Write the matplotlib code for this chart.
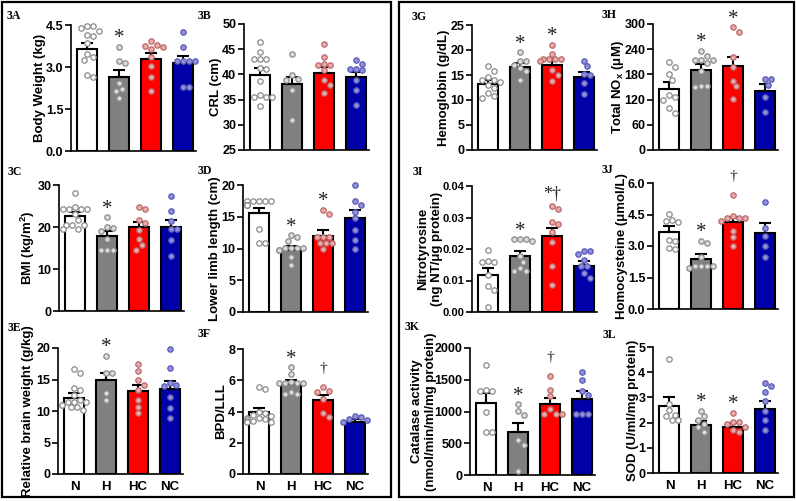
import numpy as np
import matplotlib.pyplot as plt
from matplotlib.patches import Rectangle

plt.rcParams['font.family'] = 'Liberation Sans'
plt.rcParams['font.weight'] = 'bold'
plt.rcParams['mathtext.fontset'] = 'custom'
plt.rcParams['mathtext.rm'] = 'Liberation Sans:bold'
plt.rcParams['mathtext.it'] = 'Liberation Sans:bold'
plt.rcParams['mathtext.bf'] = 'Liberation Sans:bold'
plt.rcParams['mathtext.default'] = 'regular'

W, H = 796, 501

groups = ['N', 'H', 'HC', 'NC']
bar_colors = ['white', '#808080', '#ff0000', '#0000a8']
dot_face = ['white', '#dcdcdc', '#eeaaaa', '#9090dd']
dot_edge = ['#8a8a8a', '#8a8a8a', '#b86a6a', '#5a5ab8']

# 3A body weight (kg)
bw_mean = [3.66, 2.65, 3.27, 3.15]
bw_sem = [0.21, 0.26, 0.24, 0.24]
bw_pts = [[4.45, 4.45, 4.4, 4.3, 4.15, 4.1, 3.85, 3.45, 3.35, 3.25, 2.7, 2.65],
          [3.72, 3.22, 3.13, 2.43, 2.23, 2.15, 1.91],
          [3.93, 3.77, 3.75, 3.72, 3.63, 3.37, 3.03, 2.63, 2.15],
          [4.24, 3.72, 3.22, 3.22, 3.2, 3.2, 2.3, 2.28]]
bw_sig = ['', '*', '', '']

# 3B CRL (cm)
crl_mean = [39.9, 38.1, 40.2, 39.4]
crl_sem = [1.3, 1.3, 1.3, 1.1]
crl_pts = [[46.5, 44.5, 43, 43, 43, 41.2, 41, 38.6, 36, 35.5, 35.5, 35.5, 33.7],
           [44, 39.9, 39, 38.9, 36.9, 31],
           [46, 43.5, 42.1, 41.9, 41.9, 40.9, 38.9, 37.9, 36.4],
           [42.9, 42.1, 41, 41, 40.9, 38.9, 36.9, 33.9]]
crl_sig = ['', '', '', '']

# 3C BMI
bmi_mean = [22.7, 17.9, 19.9, 20.1]
bmi_sem = [0.9, 1.1, 1.4, 1.6]
bmi_pts = [[28.2, 24.8, 24.4, 24.4, 24.4, 24.4, 23, 21.6, 20.5, 20.5, 20.5, 19.6, 19.6],
           [22.3, 19.9, 19.7, 19.1, 17.1, 14.5, 14.5, 14.5],
           [24.8, 24.3, 21.7, 20.9, 19.3, 17.1, 15.7, 14.5],
           [27.3, 23.9, 21.5, 19.5, 19.5, 16.9, 13.2]]
bmi_sig = ['', '*', '', '']

# 3D lower limb length (cm)
lll_mean = [15.6, 9.8, 12.0, 14.8]
lll_sem = [0.8, 0.6, 0.9, 1.3]
lll_pts = [[17.5, 17.5, 17.5, 17.5, 17.5, 16.9, 16.9, 16.9, 13.0, 10.9, 10.9],
           [12.1, 11.8, 11.2, 10.1, 10.1, 10.1, 10.1, 9.8, 9.8, 8.7, 7.4],
           [16.1, 15.5, 11.8, 11.8, 11.8, 10.9, 10.9, 10.9, 9.9],
           [20, 17.5, 16.9, 15.8, 14.8, 12.9, 11.3, 9.9]]
lll_sig = ['', '*', '*', '']

# 3E relative brain weight (g/kg)
rbw_mean = [12.1, 14.9, 13.1, 13.5]
rbw_sem = [0.8, 1.2, 1.0, 1.2]
rbw_pts = [[16.7, 16.0, 13.7, 13.3, 12.6, 11.8, 11.5, 11.5, 11.5, 11.0, 11.0, 10.6, 10.6, 10.2],
           [18.8, 16.1, 16.0, 12.9, 11.7],
           [17.4, 16.3, 14.9, 14.2, 13.4, 11.8, 10.7, 9.7],
           [19.9, 16.8, 14.4, 14.2, 14.0, 12.3, 10.4, 8.9]]
rbw_sig = ['', '*', '', '']

# 3F BPD/LLL
bpd_mean = [3.94, 5.77, 4.74, 3.32]
bpd_sem = [0.26, 0.23, 0.32, 0.19]
bpd_pts = [[5.6, 5.45, 4.0, 3.9, 3.8, 3.7, 3.6, 3.6, 3.5, 3.5, 3.4, 3.4, 3.3, 3.3],
           [6.83, 6.38, 5.91, 5.8, 5.8, 5.8, 5.8, 5.23, 5.1, 5.1],
           [5.55, 5.32, 5.28, 4.79, 3.9, 3.64],
           [3.72, 3.64, 3.5, 3.43, 3.35]]
bpd_sig = ['', '*', '\u2020', '']

# 3G hemoglobin (g/dL)
hb_mean = [13.2, 16.5, 17.0, 14.5]
hb_sem = [0.8, 0.8, 1.1, 1.0]
hb_pts = [[16.7, 15.7, 14.5, 14.0, 14.0, 13.5, 13.0, 12.3, 11.3, 10.8, 10.3],
          [19.5, 17.8, 17.8, 17.0, 16.3, 15.8, 14.0],
          [21.0, 19.2, 18.1, 18.1, 18.1, 18.1, 17.7, 16.0, 15.0, 13.7],
          [17.8, 16.7, 15.2, 15.0, 13.3, 11.2]]
hb_sig = ['', '*', '*', '']

# 3H total NOx (uM)
nox_mean = [145, 190, 200, 141]
nox_sem = [18, 14, 21, 15]
nox_pts = [[210, 198, 181, 167, 131, 125, 119, 99, 87],
           [236, 224, 214, 214, 214, 206, 187, 152, 152, 149],
           [292, 280, 222, 197, 165, 152, 121],
           [169, 169, 155, 127, 90]]
nox_sig = ['', '*', '*', '']

# 3I nitrotyrosine
nt_mean = [0.0116, 0.0179, 0.0242, 0.0147]
nt_sem = [0.0023, 0.0015, 0.0024, 0.0016]
nt_pts = [[0.0197, 0.0163, 0.0160, 0.0160, 0.0118, 0.0081, 0.0069, 0.0016],
          [0.0231, 0.0231, 0.0231, 0.0226, 0.0179, 0.0160, 0.0139, 0.0129, 0.0129],
          [0.0338, 0.0326, 0.0287, 0.0279, 0.0255, 0.0221, 0.0145, 0.0087],
          [0.0194, 0.0194, 0.0184, 0.0164, 0.0145, 0.0145, 0.0123, 0.0108]]
nt_sig = ['', '*', '*\u2020', '']

# 3J homocysteine (umol/L)
hcy_mean = [3.67, 2.38, 4.14, 3.62]
hcy_sem = [0.27, 0.24, 0.26, 0.48]
hcy_pts = [[4.52, 4.25, 4.17, 4.13, 3.3, 3.25, 2.9, 2.86],
           [3.25, 3.14, 2.48, 2.06, 2.06, 2.06, 2.06, 1.95],
           [5.41, 4.41, 4.33, 4.33, 4.33, 4.17, 3.73, 3.41, 2.98],
           [5.1, 3.86, 3.46, 2.98, 2.48]]
hcy_sig = ['', '*', '\u2020', '']

# 3K catalase activity
cat_mean = [1132, 674, 1116, 1195]
cat_sem = [157, 142, 95, 131]
cat_pts = [[1737, 1332, 1316, 1316, 1000, 674, 674],
           [1116, 1011, 947, 553, 474, 68],
           [1553, 1342, 1237, 1037, 958, 958, 958],
           [1621, 1500, 1316, 1263, 963, 963, 963]]
cat_sig = ['', '*', '\u2020', '']

# 3L SOD
sod_mean = [2.66, 1.90, 1.83, 2.55]
sod_sem = [0.36, 0.16, 0.15, 0.31]
sod_pts = [[4.54, 2.75, 2.51, 2.32, 2.28, 2.1, 2.1],
           [2.46, 2.25, 2.09, 1.96, 1.83, 1.63],
           [2.38, 2.02, 2.02, 1.96, 1.83, 1.72, 1.63],
           [3.57, 3.44, 3.21, 2.84, 2.48, 2.09, 1.72]]
sod_sig = ['', '*', '*', '']

# y axis ticks and tick labels
bw_ticks = [0, 1.5, 3.0, 4.5]
bw_labels = ['0.0', '1.5', '3.0', '4.5']
crl_ticks = [25, 30, 35, 40, 45, 50]
bmi_ticks = [0, 10, 20, 30]
lll_ticks = [0, 5, 10, 15, 20]
rbw_ticks = [0, 5, 10, 15, 20]
bpd_ticks = [0, 2, 4, 6, 8]
hb_ticks = [0, 5, 10, 15, 20, 25]
nox_ticks = [0, 60, 120, 180, 240, 300]
nt_ticks = [0, 0.01, 0.02, 0.03, 0.04]
nt_labels = ['0.00', '0.01', '0.02', '0.03', '0.04']
hcy_ticks = [0, 1.5, 3.0, 4.5, 6.0]
hcy_labels = ['0.0', '1.5', '3.0', '4.5', '6.0']
cat_ticks = [0, 500, 1000, 1500, 2000]
sod_ticks = [0, 1, 2, 3, 4, 5]

panels = [
    ('3A', 'Body Weight (kg)', bw_mean, bw_sem, bw_pts, bw_sig, bw_ticks, bw_labels),
    ('3B', 'CRL (cm)', crl_mean, crl_sem, crl_pts, crl_sig, crl_ticks, None),
    ('3C', 'BMI (kg/m$^2$)', bmi_mean, bmi_sem, bmi_pts, bmi_sig, bmi_ticks, None),
    ('3D', 'Lower limb length (cm)', lll_mean, lll_sem, lll_pts, lll_sig, lll_ticks, None),
    ('3E', 'Relative brain weight (g/kg)', rbw_mean, rbw_sem, rbw_pts, rbw_sig, rbw_ticks, None),
    ('3F', 'BPD/LLL', bpd_mean, bpd_sem, bpd_pts, bpd_sig, bpd_ticks, None),
    ('3G', 'Hemoglobin (g/dL)', hb_mean, hb_sem, hb_pts, hb_sig, hb_ticks, None),
    ('3H', 'Total NO$_x$ (\u03bcM)', nox_mean, nox_sem, nox_pts, nox_sig, nox_ticks, None),
    ('3I', 'Nitrotyrosine\n(ng NT/\u03bcg protein)', nt_mean, nt_sem, nt_pts, nt_sig, nt_ticks, nt_labels),
    ('3J', 'Homocysteine (\u03bcmol/L)', hcy_mean, hcy_sem, hcy_pts, hcy_sig, hcy_ticks, hcy_labels),
    ('3K', 'Catalase activity\n(nmol/min/ml/mg protein)', cat_mean, cat_sem, cat_pts, cat_sig, cat_ticks, None),
    ('3L', 'SOD (U/ml/mg protein)', sod_mean, sod_sem, sod_pts, sod_sig, sod_ticks, None),
]

# layout in pixels: y-axis x, axes top, axes bottom, ylabel right edge (px left of axis),
# panel label x, panel label baseline, tick label size
layout = [
    (71, 25, 151, 25, 7, 19, 9),
    (244, 24, 150, 22, 198, 19, 9),
    (59, 185, 311, 22, 8, 175, 9),
    (243, 185, 312, 22, 198, 174, 9),
    (58, 348, 474, 24, 8, 331, 9),
    (243, 349, 474, 16, 198, 337, 9),
    (472, 25, 150, 22, 412, 20, 9),
    (653, 24, 150, 27, 602, 18, 9),
    (472, 186, 312, 29, 413, 175, 8),
    (653, 183, 309, 25, 602, 173, 9),
    (470, 348, 475, 33, 405, 330, 9),
    (653, 347, 473, 14, 603, 338, 9),
]

AX_W = 125
PITCH = 31.7  # px per category


def swarm(vals, ylo, yhi, h_px, d=6.0):
    ypx = (np.asarray(vals, float) - ylo) / (yhi - ylo) * h_px
    order = np.argsort(-ypx)
    placed = []
    xs = np.zeros(len(vals))
    cands = [0, 1, -1, 2, -2, 3, -3, 4, -4]
    for i in order:
        best = None
        for k in cands:
            xo = k * d / 2
            ok = all((xo - px) ** 2 + (ypx[i] - py) ** 2 >= d ** 2 for px, py in placed)
            if ok:
                best = xo
                break
        if best is None:
            best = cands[-1] * d / 2
        xs[i] = best
        placed.append((best, ypx[i]))
    return xs / PITCH


fig = plt.figure(figsize=(W / 100, H / 100), dpi=100)

x = np.arange(4)
for idx, (tag, ylab, mean, sem, pts, sig, ticks, tlabels) in enumerate(panels):
    x0, top, bot, lab_r, tx, ty, tsize = layout[idx]
    ax = fig.add_axes([x0 / W, 1 - bot / H, AX_W / W, (bot - top) / H])
    ylo, yhi = ticks[0], ticks[-1]
    ax.bar(x, mean, width=0.63, color=bar_colors, edgecolor='black', linewidth=1.5, zorder=2)
    ax.errorbar(x, mean, yerr=[np.zeros(4), sem], fmt='none', ecolor='black',
                elinewidth=1.5, capsize=4, capthick=1.5, zorder=3)
    for g in range(4):
        offs = swarm(pts[g], ylo, yhi, bot - top)
        ax.scatter(x[g] + offs, pts[g], s=15, facecolor=dot_face[g], edgecolor=dot_edge[g],
                   linewidth=0.9, zorder=4, clip_on=False)
        if sig[g]:
            ytop = max(max(pts[g]), mean[g] + sem[g])
            if sig[g] == '*':
                fs, pad = 15, -1
            elif sig[g] == '\u2020':
                fs, pad = 11, 9
            else:
                fs, pad = 13, 2
            ax.annotate(sig[g], xy=(x[g], ytop), xytext=(0, pad), textcoords='offset points',
                        ha='center', va='bottom', fontsize=fs, color='#222222',
                        family='Liberation Serif', fontweight='normal', annotation_clip=False)
    ax.set_xlim(-0.52, AX_W / PITCH - 0.52)
    ax.set_ylim(ylo, yhi)
    ax.set_yticks(ticks)
    if tlabels is not None:
        ax.set_yticklabels(tlabels)
    ax.set_xticks(x)
    if idx in (4, 5, 10, 11):
        ax.set_xticklabels(groups)
    else:
        ax.set_xticklabels([])
    ax.tick_params(axis='x', length=0, pad=5, labelsize=9.5)
    ax.tick_params(axis='y', length=4, width=1.2, pad=1.5, labelsize=tsize)
    for s in ('top', 'right'):
        ax.spines[s].set_visible(False)
    for s in ('left', 'bottom'):
        ax.spines[s].set_linewidth(1.2)
    ax.set_ylabel(ylab, fontsize=9.5, fontweight='bold', linespacing=1.2)
    ax.yaxis.set_label_coords(-lab_r / AX_W, 0.5)
    fig.text(tx / W, 1 - ty / H, tag, family='Liberation Serif', fontweight='bold',
             fontsize=8.5, va='baseline', ha='left')

fig.add_artist(Rectangle((2 / W, 1 - 497 / H), 389 / W, 495 / H, fill=False,
                         linewidth=1.6, edgecolor='black', transform=fig.transFigure))
fig.add_artist(Rectangle((399 / W, 1 - 497 / H), 395 / W, 495 / H, fill=False,
                         linewidth=1.6, edgecolor='black', transform=fig.transFigure))

fig.savefig('out.png', dpi=100)
